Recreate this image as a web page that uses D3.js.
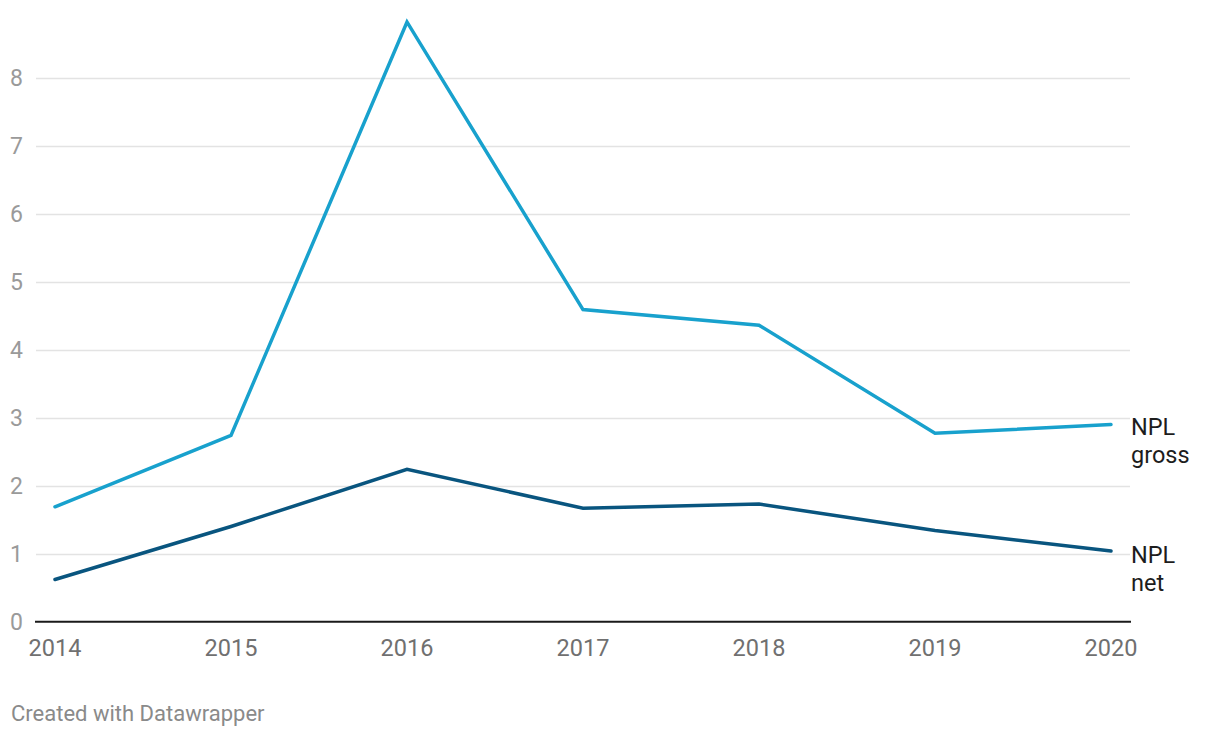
<!DOCTYPE html>
<html>
<head>
<meta charset="utf-8">
<script src="https://cdn.jsdelivr.net/npm/d3@7"></script>
<style>
  html, body { margin: 0; padding: 0; background: #fff; }
  svg { display: block; font-family: Roboto, "Noto Sans", sans-serif; }
</style>
</head>
<body>
<svg id="chart" width="1220" height="738"></svg>
<script>
const years = [2014, 2015, 2016, 2017, 2018, 2019, 2020];
const npl_gross = [1.69, 2.74, 8.82, 4.59, 4.36, 2.77, 2.90];
const npl_net = [0.62, 1.40, 2.24, 1.67, 1.73, 1.34, 1.04];
const yTicks = [0, 1, 2, 3, 4, 5, 6, 7, 8];
const seriesNames = [["NPL", "gross"], ["NPL", "net"]];
const seriesColors = ["#18a1cd", "#09557f"];

const svg = d3.select("#chart");
const x = d3.scaleLinear().domain([2014, 2020]).range([55, 1111]);
const y = d3.scaleLinear().domain([0, 8]).range([621.7, 77.7]);

const gridLeft = 36, gridRight = 1130;

// gridlines
svg.append("g").selectAll("line")
  .data(yTicks.filter(d => d !== 0))
  .join("line")
  .attr("x1", gridLeft).attr("x2", gridRight)
  .attr("y1", d => Math.round(y(d)) + 0.5).attr("y2", d => Math.round(y(d)) + 0.5)
  .attr("stroke", "#e3e3e3").attr("stroke-width", 1.4);

// y tick labels
svg.append("g").selectAll("text")
  .data(yTicks)
  .join("text")
  .attr("x", 23).attr("y", d => y(d) + 8)
  .attr("text-anchor", "end")
  .attr("font-size", 23)
  .attr("fill", "#9a9a9a")
  .text(d => d);

// baseline
svg.append("line")
  .attr("x1", 35).attr("x2", 1131)
  .attr("y1", y(0)).attr("y2", y(0))
  .attr("stroke", "#1a1a1a").attr("stroke-width", 2);

// x axis labels
svg.append("g").selectAll("text")
  .data(years)
  .join("text")
  .attr("x", d => x(d)).attr("y", 656)
  .attr("text-anchor", "middle")
  .attr("font-size", 23.5)
  .attr("fill", "#707070")
  .text(d => d);

// lines
const line = d3.line().x((d, i) => x(years[i])).y(d => y(d));
[npl_gross, npl_net].forEach((vals, k) => {
  svg.append("path")
    .datum(vals)
    .attr("d", line)
    .attr("fill", "none")
    .attr("stroke", seriesColors[k])
    .attr("stroke-width", 3.5)
    .attr("stroke-linejoin", "miter")
    .attr("stroke-linecap", "round");
});

// labels
const labelY = [435, 563];
seriesNames.forEach((lines, k) => {
  const t = svg.append("text")
    .attr("x", 1131).attr("y", labelY[k])
    .attr("font-size", 23.5)
    .attr("fill", "#1d1d1d");
  lines.forEach((s, i) => {
    t.append("tspan").attr("x", 1131).attr("dy", i === 0 ? 0 : 28).text(s);
  });
});

// credit
svg.append("text")
  .attr("x", 11).attr("y", 721)
  .attr("font-size", 22)
  .attr("fill", "#8a8a8a")
  .text("Created with Datawrapper");
</script>
</body>
</html>
